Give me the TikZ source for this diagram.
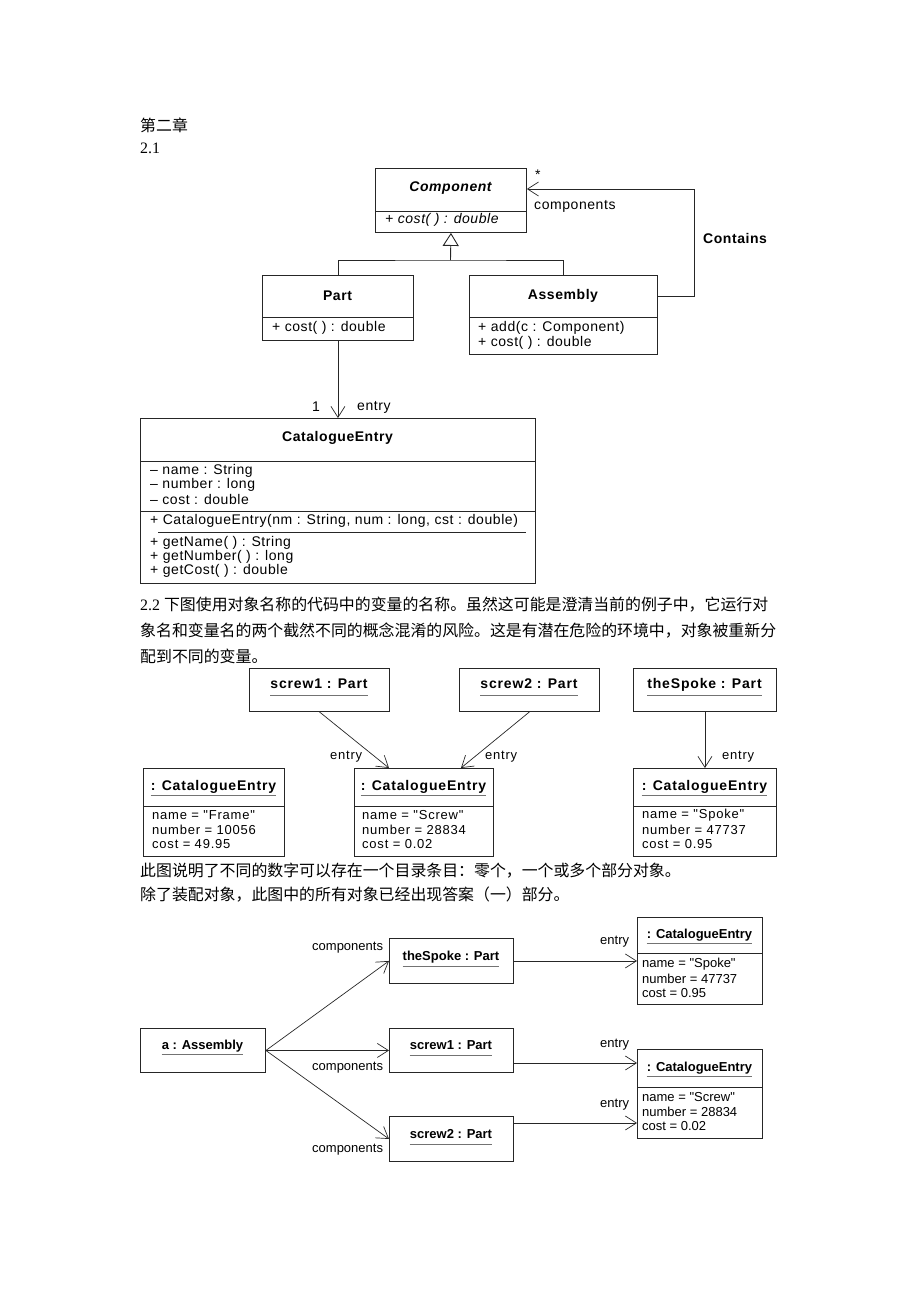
\documentclass[tikz,border=0pt]{standalone}
\usepackage{fontspec}
\setmainfont{Liberation Serif}
\newfontfamily\cjk{Noto Sans CJK SC}
\newfontfamily\umlfont[LetterSpace=4]{Liberation Sans}
\newfontfamily\objfont[LetterSpace=6]{Liberation Sans}
\newfontfamily\narrowfont{Liberation Sans}
\usetikzlibrary{arrows.meta}

\tikzset{
  box/.style={draw=black!85, line width=0.9pt, inner sep=0pt, anchor=north west},
  sep/.style={draw=black!85, line width=0.9pt},
  ctitle/.style={font=\umlfont\bfseries\fontsize{14}{16}\selectfont, inner sep=0pt},
  txt/.style={font=\umlfont\fontsize{14}{15}\selectfont, anchor=west, inner sep=0pt},
  otitle/.style={font=\objfont\bfseries\fontsize{14}{16}\selectfont, inner sep=0pt, text height=10pt, text depth=3pt},
  otxt/.style={font=\objfont\fontsize{13}{15}\selectfont, anchor=west, inner sep=0pt},
  stitle/.style={font=\narrowfont\bfseries\fontsize{13}{15}\selectfont, inner sep=0pt, text height=10pt, text depth=3pt},
  stxt/.style={font=\narrowfont\fontsize{13}{15}\selectfont, anchor=west, inner sep=0pt},
  cn/.style={font=\fontsize{15.9}{18}\selectfont, anchor=west, inner sep=0pt},
  uline/.style={draw=black!55, line width=1.2pt},
  assoc/.style={draw=black!85, line width=0.7pt, -{Straight Barb[length=11pt,width=14pt]}},
}

\begin{document}
\begin{tikzpicture}[x=1pt, y=-1pt]
  \useasboundingbox (0,0) rectangle (920,1302);

  % headings
  \node[cn] (chap) at (140,125) {\cjk 第二章};
  \node[cn] (sec21) at (140,148) {2.1};

  % 2.1 class diagram
  \node[box, minimum width=151pt, minimum height=64pt] (comp) at (375,168) {};
  \draw[sep] (375,211) -- (526,211);
  \node[ctitle] (compT) at (450.5,188) {\itshape Component};
  \node[txt] (compOp) at (385,220) {\itshape + cost( ) : double};

  \node[box, minimum width=151pt, minimum height=65pt] (part) at (262,275) {};
  \draw[sep] (262,317) -- (413,317);
  \node[ctitle] (partT) at (337.5,296) {Part};
  \node[txt] (partOp) at (272,328) {+ cost( ) : double};

  \node[box, minimum width=188pt, minimum height=79pt] (asm) at (469,275) {};
  \draw[sep] (469,317) -- (657,317);
  \node[ctitle] (asmT) at (563,296) {Assembly};
  \node[txt] (asmOp1) at (478,328) {+ add(c : Component)};
  \node[txt] (asmOp2) at (478,343) {+ cost( ) : double};

  \coordinate (gen) at (450.5,260);
  \draw[sep] (part.north) |- (gen) -| (asm.north);
  \draw[sep, -{Triangle[open, length=13pt, width=16pt]}] (gen) -- (comp.south);

  \draw[assoc] ([yshift=-21pt]asm.north east) -- (694,296) |- ([yshift=-21pt]comp.north east);
  \node[txt] (star) at (535,175) {*};
  \node[txt] (compRole) at (534,206) {components};
  \node[ctitle, anchor=west] (contains) at (703,238) {Contains};

  \node[box, minimum width=395pt, minimum height=165pt] (ce) at (140,418) {};
  \draw[sep] (140,461) -- (535,461);
  \draw[sep] (140,511) -- (535,511);
  \draw[sep] (158,532) -- (526,532);
  \node[ctitle] (ceT) at (337.5,438) {CatalogueEntry};
  \node[txt] (ceA1) at (150,471) {– name : String};
  \node[txt] (ceA2) at (150,485) {– number : long};
  \node[txt] (ceA3) at (150,499) {– cost : double};
  \node[txt] (ceOp0) at (150,521) {+ CatalogueEntry(nm : String, num : long, cst : double)};
  \node[txt] (ceOp1) at (150,543) {+ getName( ) : String};
  \node[txt] (ceOp2) at (150,557) {+ getNumber( ) : long};
  \node[txt] (ceOp3) at (150,571) {+ getCost( ) : double};

  \draw[assoc] (part.south) -- (ce.north);
  \node[txt] (mult) at (312,407) {1};
  \node[txt] (entryRole) at (357,407) {entry};

  % 2.2 text
  \node[cn] (p1) at (140,605) {2.2 \cjk 下图使用对象名称的代码中的变量的名称。虽然这可能是澄清当前的例子中，它运行对};
  \node[cn] (p2) at (140,631) {\cjk 象名和变量名的两个截然不同的概念混淆的风险。这是有潜在危险的环境中，对象被重新分};
  \node[cn] (p3) at (140,656) {\cjk 配到不同的变量。};

  % 2.2 object diagram
  \node[box, minimum width=140pt, minimum height=43pt] (s1) at (249,668) {};
  \node[otitle] (s1T) at (319,685) {screw1 : Part};
  \draw[uline] ([yshift=-4pt]s1T.south west) -- ([yshift=-4pt]s1T.south east);

  \node[box, minimum width=140pt, minimum height=43pt] (s2) at (459,668) {};
  \node[otitle] (s2T) at (529,685) {screw2 : Part};
  \draw[uline] ([yshift=-4pt]s2T.south west) -- ([yshift=-4pt]s2T.south east);

  \node[box, minimum width=143pt, minimum height=43pt] (sp) at (633,668) {};
  \node[otitle] (spT) at (704.5,685) {theSpoke : Part};
  \draw[uline] ([yshift=-4pt]spT.south west) -- ([yshift=-4pt]spT.south east);

  \node[box, minimum width=141pt, minimum height=88pt] (ceF) at (143,768) {};
  \draw[sep] (143,806) -- (284,806);
  \node[otitle] (ceFT) at (213.5,787) {: CatalogueEntry};
  \draw[uline] ([yshift=-2pt]ceFT.south west) -- ([yshift=-2pt]ceFT.south east);
  \foreach \t [count=\i] in {{name = "Frame"}, {number = 10056}, {cost = 49.95}}
    \node[otxt] (ceFa\i) at (152,800.5+14.5*\i) {\t};

  \node[box, minimum width=139pt, minimum height=88pt] (ceS) at (354,768) {};
  \draw[sep] (354,806) -- (493,806);
  \node[otitle] (ceST) at (423.5,787) {: CatalogueEntry};
  \draw[uline] ([yshift=-2pt]ceST.south west) -- ([yshift=-2pt]ceST.south east);
  \foreach \t [count=\i] in {{name = "Screw"}, {number = 28834}, {cost = 0.02}}
    \node[otxt] (ceSa\i) at (362,800.5+14.5*\i) {\t};

  \node[box, minimum width=143pt, minimum height=88pt] (ceP) at (633,768) {};
  \draw[sep] (633,806) -- (776,806);
  \node[otitle] (cePT) at (704.5,787) {: CatalogueEntry};
  \draw[uline] ([yshift=-2pt]cePT.south west) -- ([yshift=-2pt]cePT.south east);
  \foreach \t [count=\i] in {{name = "Spoke"}, {number = 47737}, {cost = 0.95}}
    \node[otxt] (cePa\i) at (642,800.5+14.5*\i) {\t};

  \draw[assoc] (s1.south) -- ([xshift=-35pt]ceS.north);
  \draw[assoc] (s2.south) -- ([xshift=37pt]ceS.north);
  \draw[assoc] (sp.south) -- (ceP.north);
  \node[otxt] (e1) at (330,757) {entry};
  \node[otxt] (e2) at (485,757) {entry};
  \node[otxt] (e3) at (722,757) {entry};

  % text between
  \node[cn] (p4) at (140,871) {\cjk 此图说明了不同的数字可以存在一个目录条目：零个，一个或多个部分对象。};
  \node[cn] (p5) at (140,895) {\cjk 除了装配对象，此图中的所有对象已经出现答案（一）部分。};

  % 2.3 object diagram
  \node[box, minimum width=125pt, minimum height=44pt] (asm2) at (140,1028) {};
  \node[stitle] (asm2T) at (202.5,1046) {a : Assembly};
  \draw[uline] ([yshift=-2pt]asm2T.south west) -- ([yshift=-2pt]asm2T.south east);

  \node[box, minimum width=124pt, minimum height=45pt] (sp2) at (389,938) {};
  \node[stitle] (sp2T) at (451,957) {theSpoke : Part};
  \draw[uline] ([yshift=-3pt]sp2T.south west) -- ([yshift=-3pt]sp2T.south east);

  \node[box, minimum width=124pt, minimum height=44pt] (s1b) at (389,1028) {};
  \node[stitle] (s1bT) at (451,1046) {screw1 : Part};
  \draw[uline] ([yshift=-3pt]s1bT.south west) -- ([yshift=-3pt]s1bT.south east);

  \node[box, minimum width=124pt, minimum height=45pt] (s2b) at (389,1116) {};
  \node[stitle] (s2bT) at (451,1135) {screw2 : Part};
  \draw[uline] ([yshift=-3pt]s2bT.south west) -- ([yshift=-3pt]s2bT.south east);

  \node[box, minimum width=125pt, minimum height=87pt] (ceP2) at (637,917) {};
  \draw[sep] (637,953) -- (762,953);
  \node[stitle] (ceP2T) at (699.5,935) {: CatalogueEntry};
  \draw[uline] ([yshift=-2pt]ceP2T.south west) -- ([yshift=-2pt]ceP2T.south east);
  \foreach \t [count=\i] in {{name = "Spoke"}, {number = 47737}, {cost = 0.95}}
    \node[stxt] (ceP2a\i) at (642,949.5+14.5*\i) {\t};

  \node[box, minimum width=125pt, minimum height=89pt] (ceS2) at (637,1049) {};
  \draw[sep] (637,1087) -- (762,1087);
  \node[stitle] (ceS2T) at (699.5,1068) {: CatalogueEntry};
  \draw[uline] ([yshift=-2pt]ceS2T.south west) -- ([yshift=-2pt]ceS2T.south east);
  \foreach \t [count=\i] in {{name = "Screw"}, {number = 28834}, {cost = 0.02}}
    \node[stxt] (ceS2a\i) at (642,1082.5+14.5*\i) {\t};

  \draw[assoc] (asm2.east) -- (sp2.west);
  \draw[assoc] (asm2.east) -- (s1b.west);
  \draw[assoc] (asm2.east) -- (s2b.west);
  \draw[assoc] (sp2.east) -- (ceP2.west);
  \draw[assoc] ([yshift=-35pt]s1b.north east) -- ([yshift=-14pt]ceS2.north west);
  \draw[assoc] ([yshift=-7pt]s2b.north east) -- ([yshift=-74pt]ceS2.north west);
  \node[stxt] (c1) at (312,948) {components};
  \node[stxt] (c2) at (312,1068) {components};
  \node[stxt] (c3) at (312,1150) {components};
  \node[stxt] (e4) at (600,942) {entry};
  \node[stxt] (e5) at (600,1045) {entry};
  \node[stxt] (e6) at (600,1105) {entry};
\end{tikzpicture}
\end{document}
